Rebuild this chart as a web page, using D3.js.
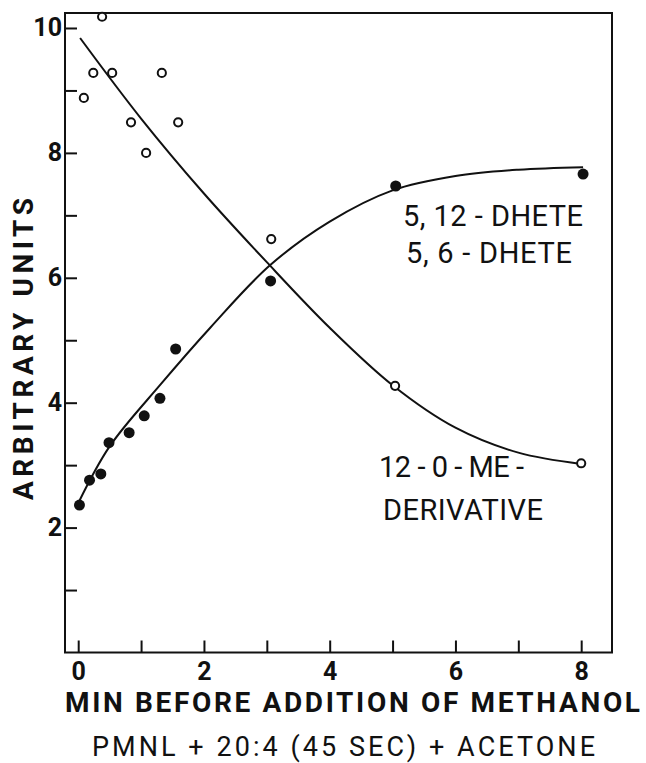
<!DOCTYPE html>
<html>
<head>
<meta charset="utf-8">
<script src="https://cdn.jsdelivr.net/npm/d3@7"></script>
<style>
  html, body { margin: 0; padding: 0; background: #fff; }
  svg { display: block; }
  text { font-family: Roboto, "Noto Sans", sans-serif; fill: #111; }
</style>
</head>
<body>
<svg id="chart" width="646" height="763"></svg>
<script>
// Measured samples: 12-O-methyl derivative (open) and DHETE products (filled)
const openX  = [0.09, 0.24, 0.38, 0.54, 0.84, 1.08, 1.33, 1.59, 3.07, 5.04, 8.0];
const openY  = [8.88, 9.28, 10.18, 9.28, 8.49, 8.0, 9.28, 8.49, 6.62, 4.27, 3.03];
const filledX = [0.02, 0.18, 0.36, 0.49, 0.81, 1.05, 1.30, 1.55, 3.06, 5.05, 8.03];
const filledY = [2.36, 2.76, 2.86, 3.36, 3.52, 3.79, 4.07, 4.86, 5.95, 7.47, 7.66];

// Hand-drawn trend curves
const decCurveX = [0.03, 1, 2, 3, 4, 5, 6, 7, 8];
const decCurveY = [9.84, 8.55, 7.35, 6.25, 5.2, 4.28, 3.6, 3.2, 3.02];
const incCurveX = [0, 0.5, 1.3, 2.1, 3.05, 4, 5, 6, 7, 8.03];
const incCurveY = [2.39, 3.3, 4.28, 5.2, 6.2, 6.9, 7.4, 7.63, 7.73, 7.77];

// Axis ticks
const xTicks = [0, 1, 2, 3, 4, 5, 6, 7, 8];
const xTickLabels = [0, 2, 4, 6, 8];
const yTicks = [1, 2, 3, 4, 5, 6, 7, 8, 9, 10];
const yTickLabels = [2, 4, 6, 8, 10];

const xTitle = "MIN BEFORE ADDITION OF METHANOL";
const subTitle = "PMNL + 20:4 (45 SEC) + ACETONE";
const yTitle = "ARBITRARY UNITS";

const frame = { left: 65, right: 612, top: 13, bottom: 652.5 };
const svg = d3.select("#chart");

const x = d3.scaleLinear().domain([-0.21, 8.49]).range([frame.left, frame.right]);
const y = d3.scaleLinear().domain([0, 10.24]).range([frame.bottom, frame.top]);

// Plot frame
svg.append("rect")
  .attr("x", frame.left).attr("y", frame.top)
  .attr("width", frame.right - frame.left)
  .attr("height", frame.bottom - frame.top)
  .attr("fill", "none").attr("stroke", "#111").attr("stroke-width", 2);

// Inward ticks
const xAxis = d3.axisBottom(x)
  .tickValues(xTicks)
  .tickSizeInner(-12).tickSizeOuter(0).tickPadding(10)
  .tickFormat(d => xTickLabels.includes(d) ? d : "");
const gx = svg.append("g").attr("transform", `translate(0,${frame.bottom})`).call(xAxis);
gx.select(".domain").remove();
gx.selectAll(".tick line").attr("stroke", "#111").attr("stroke-width", 2);
gx.selectAll(".tick text")
  .attr("font-family", "Roboto, sans-serif").attr("font-weight", 700)
  .attr("font-size", 25).attr("fill", "#111");

const yAxis = d3.axisLeft(y)
  .tickValues(yTicks)
  .tickSizeInner(-12).tickSizeOuter(0).tickPadding(3)
  .tickFormat(d => yTickLabels.includes(d) ? d : "");
const gy = svg.append("g").attr("transform", `translate(${frame.left},0)`).call(yAxis);
gy.select(".domain").remove();
gy.selectAll(".tick line").attr("stroke", "#111").attr("stroke-width", 2);
gy.selectAll(".tick text")
  .attr("font-family", "Roboto, sans-serif").attr("font-weight", 700)
  .attr("font-size", 25).attr("fill", "#111");

// Trend curves
const line = d3.line()
  .x(d => x(d[0])).y(d => y(d[1]))
  .curve(d3.curveCatmullRom.alpha(0.5));

svg.append("path")
  .datum(decCurveX.map((v, i) => [v, decCurveY[i]]))
  .attr("d", line).attr("fill", "none")
  .attr("stroke", "#111").attr("stroke-width", 2);

svg.append("path")
  .datum(incCurveX.map((v, i) => [v, incCurveY[i]]))
  .attr("d", line).attr("fill", "none")
  .attr("stroke", "#111").attr("stroke-width", 2);

// Markers
svg.append("g").selectAll("circle")
  .data(openX.map((v, i) => [v, openY[i]]))
  .join("circle")
  .attr("cx", d => x(d[0])).attr("cy", d => y(d[1]))
  .attr("r", 4.1).attr("fill", "#fff")
  .attr("stroke", "#111").attr("stroke-width", 2);

svg.append("g").selectAll("circle")
  .data(filledX.map((v, i) => [v, filledY[i]]))
  .join("circle")
  .attr("cx", d => x(d[0])).attr("cy", d => y(d[1]))
  .attr("r", 5.5).attr("fill", "#111");

// Axis titles
svg.append("text")
  .attr("x", 65).attr("y", 712)
  .attr("font-size", 28).attr("font-weight", 700)
  .attr("textLength", 575).attr("lengthAdjust", "spacing")
  .text(xTitle);

svg.append("text")
  .attr("x", 92).attr("y", 756)
  .attr("font-size", 27).attr("font-weight", 400)
  .attr("textLength", 503).attr("lengthAdjust", "spacing")
  .text(subTitle);

svg.append("text")
  .attr("transform", "translate(33,349) rotate(-90)")
  .attr("text-anchor", "middle")
  .attr("font-size", 28).attr("font-weight", 700)
  .attr("textLength", 302).attr("lengthAdjust", "spacing")
  .text(yTitle);

// Series labels
const labels = [
  { text: "5, 12 - DHETE", x: 403, y: 226, w: 180 },
  { text: "5, 6 - DHETE",  x: 406, y: 263, w: 166 },
  { text: "12 - 0 - ME -", x: 379, y: 477, w: 145 },
  { text: "DERIVATIVE",    x: 383, y: 520, w: 160 }
];
svg.append("g").selectAll("text")
  .data(labels)
  .join("text")
  .attr("x", d => d.x).attr("y", d => d.y)
  .attr("font-size", 29).attr("font-weight", 400)
  .attr("textLength", d => d.w).attr("lengthAdjust", "spacing")
  .text(d => d.text);
</script>
</body>
</html>
